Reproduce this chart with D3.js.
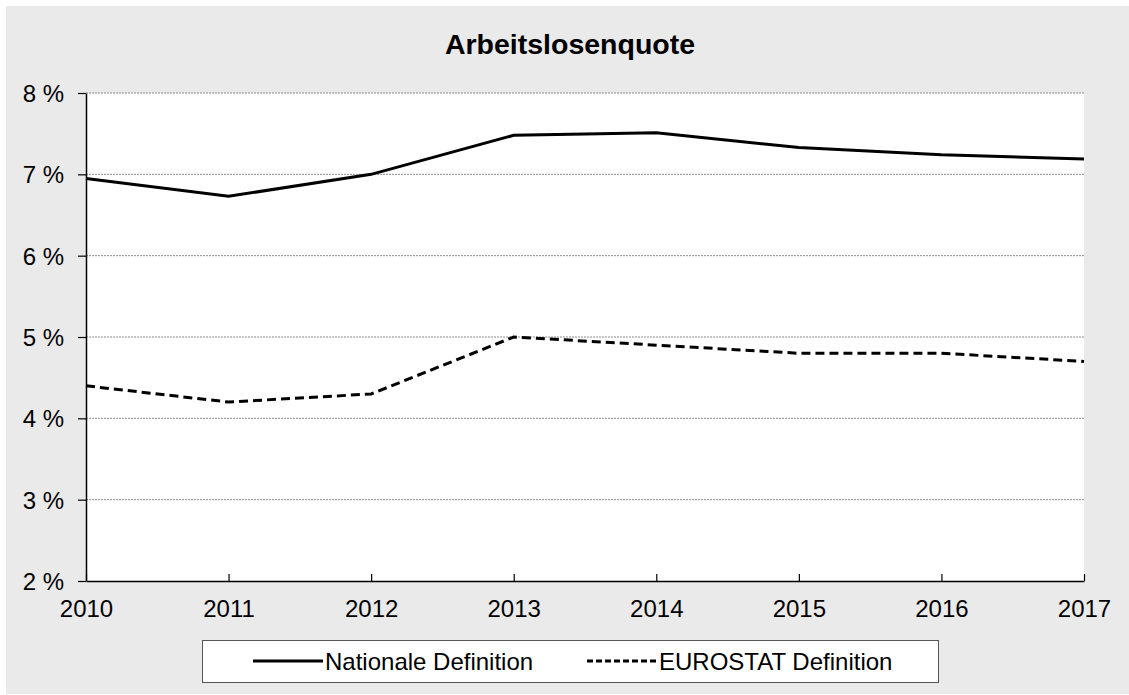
<!DOCTYPE html>
<html>
<head>
<meta charset="utf-8">
<script src="https://cdn.jsdelivr.net/npm/d3@7"></script>
<style>
  body { margin: 0; background: #fff; }
  text { font-family: "Liberation Sans", Arial, sans-serif; fill: #000; }
</style>
</head>
<body>
<div id="plot"></div>
<script>
const years = [2010, 2011, 2012, 2013, 2014, 2015, 2016, 2017];
const national = [6.95, 6.73, 7.0, 7.48, 7.51, 7.33, 7.24, 7.19];
const eurostat = [4.4, 4.2, 4.3, 5.0, 4.9, 4.8, 4.8, 4.7];
const yTicks = [2, 3, 4, 5, 6, 7, 8];
const seriesNames = ["Nationale Definition", "EUROSTAT Definition"];

const W = 1129, H = 695;
const margin = { top: 93, right: 45, bottom: 114, left: 86 };
const width = W - margin.left - margin.right;
const height = H - margin.top - margin.bottom;

const svg = d3.select("#plot").append("svg")
  .attr("width", W)
  .attr("height", H);

// outer chart area
svg.append("rect")
  .attr("x", 6).attr("y", 6)
  .attr("width", W - 6).attr("height", H - 7)
  .attr("fill", "#eaeaea");

svg.append("text")
  .attr("x", 570).attr("y", 54)
  .attr("text-anchor", "middle")
  .attr("font-size", 28.5)
  .attr("font-weight", "bold")
  .text("Arbeitslosenquote");

const g = svg.append("g")
  .attr("transform", `translate(${margin.left},${margin.top})`);

g.append("rect")
  .attr("width", width).attr("height", height)
  .attr("fill", "#fff");

const x = d3.scaleLinear()
  .domain(d3.extent(years))
  .range([0, width]);

const y = d3.scaleLinear()
  .domain([2, 8])
  .range([height, 0]);

// gridlines
g.selectAll(".grid")
  .data(yTicks.filter(d => d > 2))
  .join("line")
  .attr("class", "grid")
  .attr("x1", 0).attr("x2", width)
  .attr("y1", d => y(d)).attr("y2", d => y(d))
  .attr("stroke", "#8c8c8c")
  .attr("stroke-width", 1)
  .attr("stroke-dasharray", "2,1");

// y axis
const yAxis = g.append("g")
  .call(d3.axisLeft(y).tickValues(yTicks).tickSize(8).tickSizeOuter(0)
    .tickFormat(d => d + " %"));
yAxis.selectAll("text")
  .attr("font-size", 24)
  .attr("x", -22)
  .attr("dy", "0.35em");

// x axis
const xAxis = g.append("g")
  .attr("transform", `translate(0,${height})`)
  .call(d3.axisBottom(x).tickValues(years).tickSize(-7).tickSizeOuter(0)
    .tickFormat(d3.format("d")));
xAxis.selectAll("text")
  .attr("font-size", 24)
  .attr("y", 36)
  .attr("dy", 0);

[yAxis, xAxis].forEach(a => {
  a.select(".domain").attr("stroke", "#000").attr("stroke-width", 1.5);
  a.selectAll(".tick line").attr("stroke", "#000").attr("stroke-width", 1.2);
});

const line = d3.line()
  .x((d, i) => x(years[i]))
  .y(d => y(d));

g.append("path")
  .datum(national)
  .attr("fill", "none")
  .attr("stroke", "#000")
  .attr("stroke-width", 3)
  .attr("d", line);

g.append("path")
  .datum(eurostat)
  .attr("fill", "none")
  .attr("stroke", "#000")
  .attr("stroke-width", 3)
  .attr("stroke-dasharray", "9,5")
  .attr("d", line);

// legend
const legend = svg.append("g");
legend.append("rect")
  .attr("x", 202.5).attr("y", 640.5)
  .attr("width", 736).attr("height", 42)
  .attr("fill", "#fff")
  .attr("stroke", "#555")
  .attr("stroke-width", 1);

const legendItems = [
  { name: seriesNames[0], x: 253, dash: null },
  { name: seriesNames[1], x: 587, dash: "6,3" }
];
legendItems.forEach(it => {
  legend.append("line")
    .attr("x1", it.x).attr("x2", it.x + 70)
    .attr("y1", 661).attr("y2", 661)
    .attr("stroke", "#000")
    .attr("stroke-width", 3)
    .attr("stroke-dasharray", it.dash);
  legend.append("text")
    .attr("x", it.x + 72).attr("y", 669.5)
    .attr("font-size", 24)
    .text(it.name);
});
</script>
</body>
</html>
